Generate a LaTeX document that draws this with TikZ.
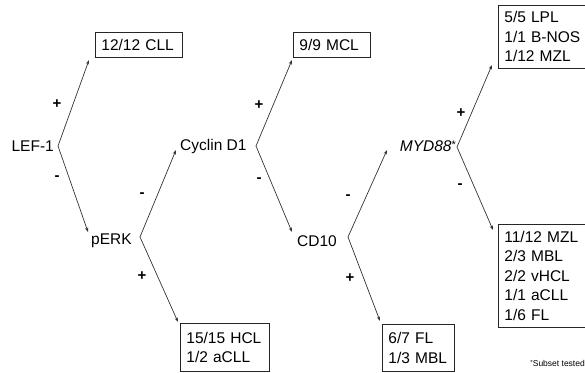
\documentclass[tikz,border=0pt]{standalone}
\usepackage{fontspec}
\setmainfont{Liberation Sans}
\usetikzlibrary{arrows.meta}
\begin{document}
\begin{tikzpicture}[x=1pt,y=-1pt,
  font=\fontsize{15.5}{19.5}\selectfont,
  box/.style={draw=black!85, line width=0.8pt, anchor=north west, align=left, inner xsep=6pt, inner ysep=0pt},
  lbl/.style={inner sep=0pt, text=black},
  sgn/.style={inner sep=0pt, font=\fontsize{15}{15}\selectfont\bfseries},
  arr/.style={draw=black!80, line width=0.7pt, -{Stealth[length=4.5pt,width=3.2pt]}}]
\useasboundingbox (0,0) rectangle (585,372);
\clip (0,0) rectangle (585,372);
% boxes
\node[box, text width=75pt, minimum height=25pt] (cll) at (95,32) {12/12 CLL};
\node[box, text width=65pt, minimum height=25pt] (mcl) at (293,32) {9/9 MCL};
\node[box, text width=88pt, minimum height=63pt] (lpl) at (498,5) {5/5 LPL\\1/1 B-NOS\\1/12 MZL};
\node[box, text width=77pt, minimum height=48pt] (hcl) at (180,323) {15/15 HCL\\1/2 aCLL};
\node[box, text width=60pt, minimum height=47pt] (fl) at (382,324) {6/7 FL\\1/3 MBL};
\node[box, text width=88pt, minimum height=103pt] (mzl) at (498,224) {11/12 MZL\\2/3 MBL\\2/2 vHCL\\1/1 aCLL\\1/6 FL};
% markers
\node[lbl, anchor=east] (lef) at (54,146) {LEF-1};
\node[lbl, anchor=west] (perk) at (91,241) {pERK};
\node[lbl, anchor=west] (cyc) at (180,146) {Cyclin D1};
\node[lbl, anchor=west] (cd10) at (297,241) {CD10};
\node[lbl, anchor=east] (myd) at (456,146) {\itshape MYD88\raisebox{3pt}{\upshape\fontsize{11}{11}\selectfont *}};
% vertices
\coordinate (lefv) at (58,146);
\coordinate (perkv) at (140,237);
\coordinate (cycv) at (256,146);
\coordinate (cd10v) at (348,237);
\coordinate (mydv) at (457,147);
% arrow ends
\coordinate (lefu) at (89,60);
\coordinate (cycu) at (292,60);
\coordinate (mydu) at (492,65);
\coordinate (mydd) at (493,230);
\coordinate (hclt) at (178,322);
\coordinate (flt) at (380,321);
\coordinate (perkt) at (88,232);
\coordinate (cd10t) at (292,232);
\coordinate (cyct) at (176,150);
\coordinate (mydt) at (387,150);
% connectors
\draw[arr] (lefv) -- (lefu);
\draw[arr] (lefv) -- (perkt);
\draw[arr] (perkv) -- (cyct);
\draw[arr] (perkv) -- (hclt);
\draw[arr] (cycv) -- (cycu);
\draw[arr] (cycv) -- (cd10t);
\draw[arr] (cd10v) -- (mydt);
\draw[arr] (cd10v) -- (flt);
\draw[arr] (mydv) -- (mydu);
\draw[arr] (mydv) -- (mydd);
% signs
\node[sgn] (s1) at (57,104) {+};
\node[sgn] (s2) at (57,178) {-};
\node[sgn] (s3) at (142,195) {-};
\node[sgn] (s4) at (142,276) {+};
\node[sgn] (s5) at (259,105) {+};
\node[sgn] (s6) at (259,180) {-};
\node[sgn] (s7) at (348,197) {-};
\node[sgn] (s8) at (350,278) {+};
\node[sgn] (s9) at (461,113) {+};
\node[sgn] (s10) at (460,186) {-};
% note
\node[lbl, anchor=east, font=\fontsize{8.5}{8.5}\selectfont] (note) at (585,363) {\raisebox{2pt}{\fontsize{6}{6}\selectfont *}Subset tested};
\end{tikzpicture}
\end{document}
